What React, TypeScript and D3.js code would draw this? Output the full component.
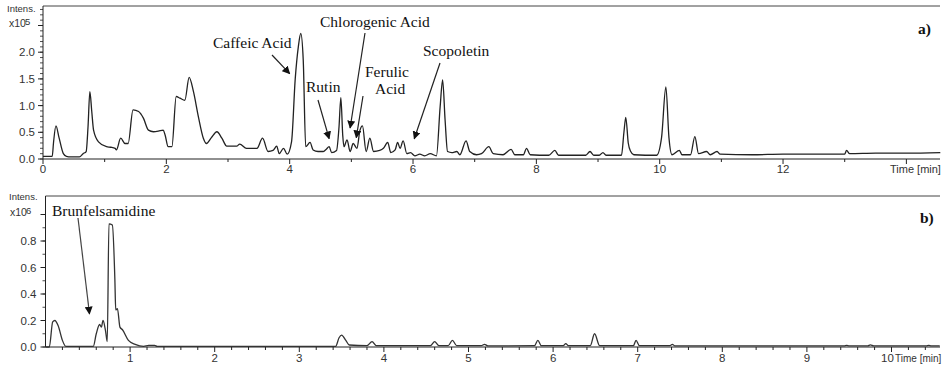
import React from "react";
import * as d3 from "d3";

// ---- Data ----
// Panel a) intensity x10^5 vs time [min]
const traceA: [number, number][] = [
  [0, 0.05], [0.15, 0.05], [0.17, 0.3], [0.21, 0.62], [0.26, 0.4], [0.33, 0.1], [0.38, 0.05], [0.45, 0.04], [0.59, 0.04],
  [0.65, 0.1], [0.7, 0.14], [0.73, 0.6], [0.76, 1.26], [0.79, 0.9], [0.82, 0.54], [0.9, 0.32], [1.03, 0.23], [1.1, 0.22],
  [1.17, 0.2], [1.19, 0.17], [1.26, 0.39], [1.33, 0.29], [1.38, 0.29], [1.46, 0.92], [1.55, 0.89], [1.63, 0.76],
  [1.71, 0.54], [1.79, 0.51], [1.87, 0.52], [1.95, 0.54], [1.98, 0.45], [2.03, 0.23], [2.09, 0.23], [2.16, 1.17],
  [2.22, 1.14], [2.3, 1.1], [2.37, 1.53], [2.44, 1.26], [2.52, 0.79], [2.6, 0.39], [2.65, 0.29], [2.73, 0.4],
  [2.82, 0.51], [2.9, 0.39], [2.98, 0.24], [3.14, 0.24], [3.19, 0.28], [3.3, 0.2], [3.47, 0.2], [3.56, 0.39],
  [3.65, 0.14], [3.73, 0.16], [3.79, 0.24], [3.83, 0.1], [3.9, 0.2], [3.96, 0.09], [4.03, 0.32], [4.09, 1.5],
  [4.14, 2.1], [4.18, 2.35], [4.22, 1.85], [4.26, 0.23], [4.33, 0.31], [4.38, 0.17], [4.46, 0.14], [4.54, 0.14],
  [4.59, 0.18], [4.64, 0.23], [4.68, 0.12], [4.76, 0.16], [4.8, 0.6], [4.83, 1.15], [4.86, 0.45], [4.88, 0.23],
  [4.93, 0.36], [4.98, 0.14], [5.03, 0.29], [5.09, 0.2], [5.14, 0.54], [5.18, 0.62], [5.24, 0.14], [5.3, 0.39],
  [5.36, 0.14], [5.46, 0.16], [5.52, 0.2], [5.59, 0.31], [5.64, 0.12], [5.71, 0.17], [5.75, 0.31], [5.79, 0.2],
  [5.84, 0.34], [5.9, 0.1], [5.96, 0.12], [6.03, 0.06], [6.11, 0.09], [6.19, 0.06], [6.28, 0.1], [6.38, 0.06],
  [6.44, 0.98], [6.48, 1.48], [6.52, 0.73], [6.56, 0.14], [6.63, 0.12], [6.71, 0.14], [6.76, 0.08], [6.86, 0.34],
  [6.92, 0.14], [7.03, 0.08], [7.11, 0.1], [7.23, 0.23], [7.3, 0.1], [7.46, 0.08], [7.59, 0.18], [7.65, 0.08],
  [7.79, 0.08], [7.84, 0.2], [7.9, 0.08], [8.2, 0.07], [8.3, 0.16], [8.36, 0.07], [8.8, 0.07], [8.87, 0.14],
  [8.93, 0.07], [9.02, 0.07], [9.08, 0.12], [9.13, 0.07], [9.38, 0.07], [9.42, 0.5], [9.45, 0.78], [9.49, 0.3],
  [9.53, 0.14], [9.58, 0.08], [9.95, 0.07], [10.03, 0.4], [10.1, 1.35], [10.15, 0.4], [10.2, 0.08], [10.32, 0.16],
  [10.36, 0.08], [10.5, 0.08], [10.57, 0.42], [10.63, 0.1], [10.76, 0.14], [10.82, 0.08], [10.93, 0.14],
  [10.98, 0.09], [11.5, 0.08], [12.0, 0.09], [12.5, 0.09], [13.0, 0.09], [13.03, 0.16], [13.08, 0.1], [13.5, 0.11],
  [14.0, 0.11], [14.55, 0.12],
];

// Panel b) intensity x10^6 vs time [min]
const traceB: [number, number][] = [
  [0, 0], [0.045, 0], [0.085, 0.19], [0.11, 0.2], [0.15, 0.16], [0.2, 0.05], [0.24, 0.005], [0.565, 0.005],
  [0.6, 0.1], [0.64, 0.17], [0.66, 0.15], [0.68, 0.2], [0.71, 0.12], [0.73, 0.04], [0.75, 0.93], [0.79, 0.92],
  [0.82, 0.51], [0.83, 0.28], [0.85, 0.29], [0.88, 0.15], [0.91, 0.13], [0.98, 0.05], [1.06, 0.02], [1.16, 0.005],
  [1.22, 0.012], [1.29, 0.012], [1.32, 0.005], [3.43, 0.005], [3.47, 0.07], [3.5, 0.09], [3.55, 0.05], [3.59, 0.015],
  [3.8, 0.01], [3.86, 0.04], [3.91, 0.01], [4.2, 0.01], [4.55, 0.01], [4.6, 0.04], [4.65, 0.01], [4.76, 0.01],
  [4.81, 0.05], [4.86, 0.01], [5.15, 0.01], [5.19, 0.02], [5.23, 0.008], [5.78, 0.01], [5.82, 0.05], [5.86, 0.01],
  [6.12, 0.01], [6.15, 0.025], [6.18, 0.01], [6.44, 0.01], [6.49, 0.1], [6.55, 0.01], [6.95, 0.01], [6.98, 0.05],
  [7.02, 0.01], [7.38, 0.01], [7.41, 0.02], [7.44, 0.008], [9.44, 0.008], [9.47, 0.012], [9.5, 0.008],
  [9.72, 0.008], [9.75, 0.016], [9.79, 0.008], [10.41, 0.008], [10.44, 0.012], [10.47, 0.008], [10.57, 0.008],
];

const ticksAxLabels = [0, 2, 4, 6, 8, 10, 12];
const ticksAyLabels = [0, 0.5, 1.0, 1.5, 2.0];
const ticksBxLabels = [1, 2, 3, 4, 5, 6, 7, 8, 9];
const ticksByLabels = [0, 0.2, 0.4, 0.6, 0.8];

const annotationsA = [
  { text: "Caffeic Acid", t: 4.0, v: 1.6, lx: 213, ly: 48, ax: 272, ay: 55 },
  { text: "Chlorogenic Acid", t: 4.98, v: 0.58, lx: 320, ly: 27, ax: 365, ay: 33 },
  { text: "Rutin", t: 4.64, v: 0.38, lx: 306, ly: 92, ax: 318, ay: 100 },
  { text: "Scopoletin", t: 6.02, v: 0.38, lx: 423, ly: 56, ax: 440, ay: 63 },
];
const annotationsB = [{ text: "Brunfelsamidine", t: 0.52, v: 0.25, lx: 52, ly: 216, ax: 78, ay: 218 }];

const W = 944;
const H = 369;

export default function App() {
  React.useEffect(() => {
    document.body.style.margin = "0";
  }, []);

  // Panel a geometry
  const aL = 43, aR = 940, aTop = 6, aBot = 159;
  const xA = d3.scaleLinear().domain([0, (aR - aL) / 61.67]).range([aL, aR]);
  const yA = d3.scaleLinear().domain([0, (aBot - aTop) / 53.4]).range([aBot, aTop]);
  // Panel b geometry
  const bL = 45.5, bR = 940, bTop = 196, bBot = 347;
  const xB = d3.scaleLinear().domain([0, (bR - bL) / 84.6]).range([bL, bR]);
  const yB = d3.scaleLinear().domain([0, (bBot - bTop) / 132.5]).range([bBot, bTop]);

  const lineA = d3.line<[number, number]>().x((d) => xA(d[0])).y((d) => yA(d[1])).curve(d3.curveMonotoneX);
  const lineB = d3.line<[number, number]>().x((d) => xB(d[0])).y((d) => yB(d[1])).curve(d3.curveMonotoneX);

  const minorYA = d3.range(0, 2.85, 0.1);
  const minorYB = d3.range(0, 1.1, 0.1);
  const majorXA = d3.range(0, 15, 2);
  const minorXA = d3.range(1, 15, 2);
  const majorXB = d3.range(1, 11, 1);
  const minorXB = d3.range(0.2, 10.6, 0.2).filter((v) => Math.abs(v - Math.round(v)) > 0.01);

  const tickFont = "'Liberation Sans', Arial, sans-serif";
  const serif = "'Liberation Serif', 'Times New Roman', serif";
  const axisColor = "#222";
  const textColor = "#333";
  const annSize = 15.5;

  const fmt = d3.format(".1f");

  return (
    <div style={{ position: "absolute", left: 0, top: 0 }}>
      <svg width={W} height={H} style={{ display: "block", background: "#fff" }}>
        <defs>
          <marker id="arr" viewBox="0 0 10 10" refX="9" refY="5" markerWidth="8" markerHeight="8" orient="auto" markerUnits="userSpaceOnUse">
            <path d="M0,0 L10,5 L0,10 z" fill="#111" />
          </marker>
        </defs>

        {/* ---------- Panel a ---------- */}
        <line x1={aL} x2={aR} y1={aTop} y2={aTop} stroke="#444" strokeWidth={1} />
        <line x1={aL} x2={aL} y1={aTop} y2={aBot} stroke={axisColor} strokeWidth={1} />
        <line x1={aL} x2={aR} y1={aBot} y2={aBot} stroke={axisColor} strokeWidth={1.2} />
        {minorYA.map((v, i) => (
          <line key={"mya" + i} x1={aL - 3} x2={aL} y1={yA(v)} y2={yA(v)} stroke={axisColor} strokeWidth={0.8} />
        ))}
        {[0, 0.5, 1.0, 1.5, 2.0, 2.5].map((v, i) => (
          <line key={"Mya" + i} x1={aL - 5} x2={aL} y1={yA(v)} y2={yA(v)} stroke={axisColor} strokeWidth={1} />
        ))}
        {ticksAyLabels.map((v, i) => (
          <text key={"tya" + i} x={aL - 8} y={yA(v) + 4} textAnchor="end" fontFamily={tickFont} fontSize={11.5} fill={textColor}>
            {fmt(v)}
          </text>
        ))}
        {majorXA.map((v, i) => (
          <line key={"Mxa" + i} x1={xA(v)} x2={xA(v)} y1={aBot} y2={aBot + 5} stroke={axisColor} strokeWidth={1} />
        ))}
        {minorXA.map((v, i) => (
          <line key={"mxa" + i} x1={xA(v)} x2={xA(v)} y1={aBot} y2={aBot + 3} stroke={axisColor} strokeWidth={1} />
        ))}
        {ticksAxLabels.map((v, i) => (
          <text key={"txa" + i} x={xA(v)} y={aBot + 14} textAnchor="middle" fontFamily={tickFont} fontSize={11.5} fill={textColor}>
            {v}
          </text>
        ))}
        <text x={890} y={aBot + 14} fontFamily={tickFont} fontSize={11} fill={textColor}>Time [min]</text>
        <text x={7} y={12} fontFamily={tickFont} fontSize={9.5} fill={textColor}>Intens.</text>
        <text x={9} y={27} fontFamily={tickFont} fontSize={10.5} fill={textColor}>
          x10<tspan dx={-1} dy={-2.5} fontSize={9.5}>5</tspan>
        </text>

        <path d={lineA(traceA) || ""} fill="none" stroke="#222" strokeWidth={1.3} strokeLinejoin="round" />

        {annotationsA.map((a, i) => (
          <g key={"an" + i}>
            <text x={a.lx} y={a.ly} fontFamily={serif} fontSize={annSize} fill="#111">{a.text}</text>
            <line x1={a.ax} y1={a.ay} x2={xA(a.t)} y2={yA(a.v)} stroke="#222" strokeWidth={1.2} markerEnd="url(#arr)" />
          </g>
        ))}
        <text x={365} y={77} fontFamily={serif} fontSize={annSize} fill="#111">Ferulic</text>
        <text x={375} y={94} fontFamily={serif} fontSize={annSize} fill="#111">Acid</text>
        <line x1={363} y1={96} x2={xA(5.08)} y2={yA(0.4)} stroke="#222" strokeWidth={1.2} markerEnd="url(#arr)" />

        <text x={918} y={34} fontFamily={serif} fontSize={15.5} fontWeight="bold" fill="#111">a)</text>

        {/* ---------- Panel b ---------- */}
        <line x1={bL} x2={bR} y1={bTop} y2={bTop} stroke="#444" strokeWidth={1} />
        <line x1={bL} x2={bL} y1={bTop} y2={bBot} stroke={axisColor} strokeWidth={1} />
        <line x1={bL} x2={bR} y1={bBot} y2={bBot} stroke={axisColor} strokeWidth={1.2} />
        {minorYB.map((v, i) => (
          <line key={"myb" + i} x1={bL - 3} x2={bL} y1={yB(v)} y2={yB(v)} stroke={axisColor} strokeWidth={0.8} />
        ))}
        {[0, 0.2, 0.4, 0.6, 0.8, 1.0].map((v, i) => (
          <line key={"Myb" + i} x1={bL - 5} x2={bL} y1={yB(v)} y2={yB(v)} stroke={axisColor} strokeWidth={1} />
        ))}
        {ticksByLabels.map((v, i) => (
          <text key={"tyb" + i} x={bL - 9} y={yB(v) + 4} textAnchor="end" fontFamily={tickFont} fontSize={11.5} fill={textColor}>
            {fmt(v)}
          </text>
        ))}
        {majorXB.map((v, i) => (
          <line key={"Mxb" + i} x1={xB(v)} x2={xB(v)} y1={bBot} y2={bBot + 5} stroke={axisColor} strokeWidth={1} />
        ))}
        {minorXB.map((v, i) => (
          <line key={"mxb" + i} x1={xB(v)} x2={xB(v)} y1={bBot} y2={bBot + 3} stroke={axisColor} strokeWidth={1} />
        ))}
        {ticksBxLabels.map((v, i) => (
          <text key={"txb" + i} x={xB(v)} y={bBot + 15} textAnchor="middle" fontFamily={tickFont} fontSize={11.5} fill={textColor}>
            {v}
          </text>
        ))}
        <text x={xB(10) - 4} y={bBot + 15} textAnchor="middle" fontFamily={tickFont} fontSize={11.5} fill={textColor}>10</text>
        <text x={895} y={bBot + 15} fontFamily={tickFont} fontSize={10} fill={textColor}>Time [min]</text>
        <text x={9} y={200} fontFamily={tickFont} fontSize={9.5} fill={textColor}>Intens.</text>
        <text x={10} y={216} fontFamily={tickFont} fontSize={10.5} fill={textColor}>
          x10<tspan dx={-1} dy={-2.5} fontSize={9.5}>6</tspan>
        </text>

        <path d={lineB(traceB) || ""} fill="none" stroke="#333" strokeWidth={1.3} strokeLinejoin="round" />

        {annotationsB.map((a, i) => (
          <g key={"bn" + i}>
            <text x={a.lx} y={a.ly} fontFamily={serif} fontSize={annSize} fill="#111">{a.text}</text>
            <line x1={a.ax} y1={a.ay} x2={xB(a.t)} y2={yB(a.v)} stroke="#444" strokeWidth={1.2} markerEnd="url(#arr)" />
          </g>
        ))}

        <text x={920} y={223} fontFamily={serif} fontSize={15.5} fontWeight="bold" fill="#111">b)</text>
      </svg>
    </div>
  );
}
